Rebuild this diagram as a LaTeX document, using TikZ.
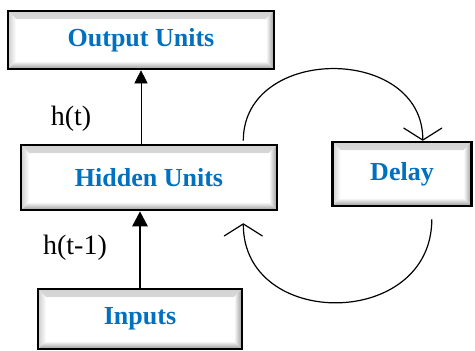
\documentclass[tikz,border=0pt]{standalone}
\usepackage{fontspec}
\setmainfont{Liberation Serif}
\usetikzlibrary{arrows.meta,calc}

\definecolor{unitblue}{RGB}{0,112,192}

% raised bevel drawn inside each unit box
\newcommand{\unitbevel}{%
  \shade[top color=gray!35,bottom color=white]
    (path picture bounding box.north west) -- (path picture bounding box.north east)
    -- ++(-8pt,-8pt) -- ($(path picture bounding box.north west)+(8pt,-8pt)$) -- cycle;
  \shade[left color=gray!40,right color=white]
    (path picture bounding box.north west) -- (path picture bounding box.south west)
    -- ++(8pt,8pt) -- ($(path picture bounding box.north west)+(8pt,-8pt)$) -- cycle;
  \shade[left color=white,right color=gray!80]
    (path picture bounding box.north east) -- (path picture bounding box.south east)
    -- ++(-8pt,8pt) -- ($(path picture bounding box.north east)+(-8pt,-8pt)$) -- cycle;
  \shade[top color=white,bottom color=gray!80]
    (path picture bounding box.south west) -- (path picture bounding box.south east)
    -- ++(-8pt,8pt) -- ($(path picture bounding box.south west)+(8pt,8pt)$) -- cycle;
}

\begin{document}
\begin{tikzpicture}[x=1pt,y=-1pt,>={Triangle[length=13pt,width=13pt]},
  every node/.style={font=\fontsize{28}{32}\selectfont},
  unit/.style={draw,line width=2.6pt,fill=white,text=unitblue,inner sep=0pt,
    font=\fontsize{26}{30}\selectfont\bfseries,path picture={\unitbevel}},
  loop/.style={-{Straight Barb[length=12pt,width=38pt,round]},line width=1.2pt}]

  \useasboundingbox (0,0) rectangle (475,351);

  \node[unit,minimum width=266pt,minimum height=58pt] (out) at (141,40) {Output Units};
  \node[unit,minimum width=256pt,minimum height=65pt] (hid) at (149,177.5) {Hidden Units};
  \node[unit,minimum width=139pt,minimum height=64pt] (dly) at (402,174) {Delay};
  \node[unit,minimum width=204pt,minimum height=60pt] (inp) at (140,319) {Inputs};

  \node (ht)  at (71,119) {h(t)};
  \node (htm) at (75,248) {h(t-1)};

  \draw[->,line width=0.6pt] (hid.north -| out.south) -- (out.south);
  \draw[->,line width=2.6pt,>={Triangle[length=15pt,width=15pt]}]
    (inp.north) -- (inp.north |- hid.south);

  % feedback loop through the delay
  \draw[loop]
    ([xshift=-35pt,yshift=3pt]hid.north east) .. controls +(0,-96) and +(0,-96)
    .. ([xshift=-50pt]dly.north east);
  \draw[loop]
    ([xshift=-41pt,yshift=-12pt]dly.south east) .. controls +(0,110) and +(0,107)
    .. ([xshift=-35pt,yshift=-12pt]hid.south east);
\end{tikzpicture}
\end{document}
